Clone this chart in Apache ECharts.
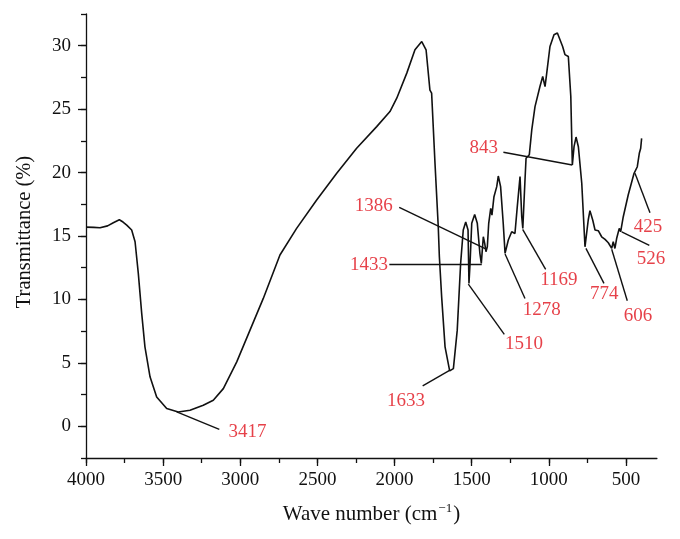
<!DOCTYPE html>
<html>
<head>
<meta charset="utf-8">
<script src="https://cdn.jsdelivr.net/npm/echarts@6/dist/echarts.min.js"></script>
<style>
  html, body { margin: 0; padding: 0; background: #fff; }
  #chart { width: 680px; height: 539px; }
</style>
</head>
<body>
<div id="chart"></div>
<script>
// FTIR spectrum
const waveNumber = [
  4000, 3950, 3909, 3860, 3823, 3784, 3760, 3736, 3704, 3682, 3661, 3639, 3618, 3585, 3542, 3477,
  3402, 3326, 3240, 3175, 3110, 3023, 2937, 2851, 2743, 2635, 2505, 2375, 2246, 2116, 2030, 1986,
  1921, 1868, 1824, 1796, 1771, 1760, 1738, 1717, 1710, 1695, 1673, 1643, 1619, 1594, 1572, 1555,
  1539, 1524, 1518, 1511, 1500, 1481, 1464, 1447, 1438, 1425, 1416, 1408, 1399, 1390, 1377, 1369,
  1356, 1338, 1328, 1313, 1296, 1284, 1263, 1241, 1220, 1205, 1187, 1176, 1169, 1155, 1148, 1127,
  1111, 1090, 1058, 1040, 1025, 1014, 993, 967, 945, 928, 911, 896, 874, 858, 848, 837,
  824, 809, 787, 766, 759, 745, 734, 716, 701, 680, 658, 636, 615, 593, 583, 572,
  561, 544, 535, 518, 486, 448, 437, 427, 414, 405, 399
];
const transmittance = [
  15.7, 15.68, 15.65, 15.8, 16.05, 16.28, 16.1, 15.86, 15.47, 14.55, 12.05, 8.9, 6.26, 3.9, 2.31, 1.4,
  1.13, 1.26, 1.66, 2.05, 2.97, 5.08, 7.58, 10.08, 13.5, 15.6, 17.84, 19.94, 21.92, 23.62, 24.81, 25.86,
  27.84, 29.68, 30.33, 29.68, 26.5, 26.26, 20.7, 15.73, 13.4, 10.2, 6.26, 4.37, 4.55, 7.58, 12.84, 15.47,
  16.1, 15.47, 11.26, 12.84, 16.0, 16.7, 16.0, 13.6, 12.84, 14.94, 14.42, 13.76, 14.15, 16.0, 17.18, 16.65,
  18.1, 18.89, 19.73, 18.89, 16.0, 13.63, 14.68, 15.33, 15.2, 17.3, 19.68, 16.52, 15.6, 19.4, 21.13, 21.4,
  23.36, 25.2, 26.78, 27.57, 26.78, 27.84, 29.94, 30.86, 31.0, 30.47, 29.94, 29.3, 29.15, 26.0, 20.6, 22.04,
  22.8, 22.04, 19.16, 14.15, 14.0, 16.26, 17.0, 16.26, 15.47, 15.42, 14.94, 14.73, 14.47, 14.02, 14.55, 14.02,
  14.8, 15.6, 15.33, 16.52, 18.23, 19.94, 19.99, 20.46, 21.52, 21.92, 22.7
];

// peak annotations: text, point on curve, end of leader line, label centre
const peakNames = ['3417', '1633', '1510', '1278', '1169', '774', '606', '526', '425', '843', '1386', '1433'];
const peakPoint = [[3412, 1.13], [1641, 4.42], [1522, 11.2], [1284, 13.58], [1170, 15.52], [760, 14.02],
  [593, 13.95], [528, 15.33], [442, 19.94], [848, 20.6], [1403, 13.95], [1435, 12.79]];
const leaderEnd = [[3136, -0.24], [1818, 3.18], [1289, 7.24], [1155, 10.08], [1021, 12.37], [643, 11.26],
  [492, 9.9], [349, 14.26], [345, 16.84], [1295, 21.6], [1970, 17.25], [2034, 12.79]];
const labelPos = [[2953, -0.45], [1926, 2.0], [1162, 6.5], [1047, 9.15], [935, 11.55], [641, 10.45],
  [423, 8.7], [338, 13.15], [358, 15.7], [1422, 21.95], [2135, 17.35], [2166, 12.75]];

const xMajorTicks = [4000, 3500, 3000, 2500, 2000, 1500, 1000, 500];
const yMajorTicks = [0, 5, 10, 15, 20, 25, 30];

const FONT = "'Liberation Serif', 'DejaVu Serif', serif";
const INK = '#111';
const RED = '#e0121b';

const chart = echarts.init(document.getElementById('chart'), null, { renderer: 'canvas' });

const tickLine = { color: INK, width: 1.3 };
const hidden = { show: false };

chart.setOption({
  animation: false,
  backgroundColor: '#fff',
  grid: [
    // main plot
    { left: 86, right: 23.1, top: 14, bottom: 81 },
    // x ticks 500..4000
    { left: 86, right: 54, top: 14, bottom: 81 },
    // y ticks 0..30
    { left: 86, right: 23.1, top: 45.7, bottom: 112.7 }
  ],
  xAxis: [
    {
      gridIndex: 0, type: 'value', inverse: true, min: 300, max: 4000,
      axisLine: { show: true, onZero: false, lineStyle: tickLine },
      axisTick: hidden, axisLabel: hidden, splitLine: hidden,
      name: 'Wave number (cm{sup|\u22121})',
      nameLocation: 'middle', nameGap: 44,
      nameTextStyle: {
        fontFamily: FONT, fontSize: 21, color: INK, lineHeight: 24,
        rich: { sup: { fontFamily: FONT, fontSize: 13, color: INK, lineHeight: 24, verticalAlign: 'top', padding: [0, 1, 10, 1] } }
      }
    },
    {
      gridIndex: 1, type: 'value', inverse: true, min: 500, max: 4000, interval: 500, position: 'bottom',
      axisLine: { show: false, onZero: false }, splitLine: hidden,
      axisTick: { show: true, inside: false, length: 8, lineStyle: tickLine },
      axisLabel: {
        show: true, margin: 13, fontFamily: FONT, fontSize: 19, color: INK,
        formatter: v => (xMajorTicks.indexOf(v) >= 0 ? String(v) : '')
      }
    },
    {
      gridIndex: 1, type: 'value', inverse: true, min: 500, max: 4000, interval: 250, position: 'bottom',
      axisLine: { show: false, onZero: false }, splitLine: hidden, axisLabel: hidden,
      axisTick: { show: true, inside: false, length: 5, lineStyle: tickLine }
    },
    { gridIndex: 2, type: 'value', inverse: true, min: 300, max: 4000, show: false }
  ],
  yAxis: [
    {
      gridIndex: 0, type: 'value', min: -2.5, max: 32.5, interval: 2.5,
      axisLine: { show: true, onZero: false, lineStyle: tickLine },
      axisTick: { show: true, inside: false, length: 5, lineStyle: tickLine },
      axisLabel: hidden, splitLine: hidden,
      name: 'Transmittance (%)', nameLocation: 'middle', nameGap: 51,
      nameTextStyle: { fontFamily: FONT, fontSize: 20.5, color: INK, padding: [0, 0, 0, 8] }
    },
    { gridIndex: 1, type: 'value', min: -2.5, max: 32.5, show: false },
    {
      gridIndex: 2, type: 'value', min: 0, max: 30, interval: 5,
      axisLine: { show: false, onZero: false }, splitLine: hidden,
      axisTick: { show: true, inside: false, length: 8, lineStyle: tickLine },
      axisLabel: {
        show: true, margin: 15, fontFamily: FONT, fontSize: 19, color: INK,
        formatter: v => (yMajorTicks.indexOf(v) >= 0 ? String(v) : '')
      }
    }
  ],
  series: [
    {
      type: 'line',
      xAxisIndex: 0, yAxisIndex: 0,
      data: waveNumber.map((w, i) => [w, transmittance[i]]),
      showSymbol: false, symbol: 'none',
      lineStyle: { color: INK, width: 1.6 },
      silent: true,
      markLine: {
        silent: true,
        symbol: ['none', 'none'],
        label: { show: false },
        lineStyle: { color: INK, width: 1.4, type: 'solid' },
        data: peakPoint.map((p, i) => [{ coord: p }, { coord: leaderEnd[i] }])
      }
    },
    {
      type: 'scatter',
      xAxisIndex: 0, yAxisIndex: 0,
      symbolSize: 1,
      itemStyle: { color: 'rgba(0,0,0,0)' },
      silent: true,
      data: labelPos.map((p, i) => ({ value: p, name: peakNames[i] })),
      label: {
        show: true, position: 'inside', align: 'center', verticalAlign: 'middle',
        formatter: p => p.name,
        fontFamily: FONT, fontSize: 19, color: RED
      }
    }
  ]
});
</script>
</body>
</html>
